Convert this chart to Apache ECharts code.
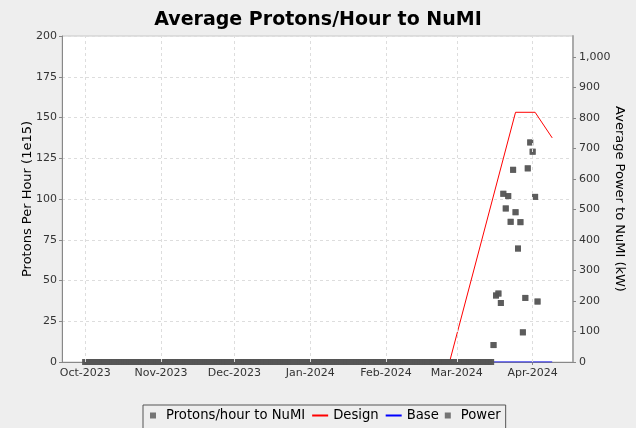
<!DOCTYPE html>
<html>
<head>
<meta charset="utf-8">
<script src="https://cdn.jsdelivr.net/npm/echarts@6/dist/echarts.min.js"></script>
<style>
html,body{margin:0;padding:0;background:#eeeeee;}
#c{width:636px;height:428px;}
</style>
</head>
<body>
<div id="c"></div>
<script>
// ---- data ----
const idleStart = '2023-10-01';   // daily zero readings from this day
const idleEnd = '2024-03-15';     // ...through this day
const runDates = ['2024-03-16','2024-03-17','2024-03-18','2024-03-19','2024-03-20','2024-03-21','2024-03-22','2024-03-23','2024-03-24','2024-03-25','2024-03-26','2024-03-27','2024-03-28','2024-03-29','2024-03-30','2024-03-31','2024-04-01','2024-04-02','2024-04-03'];
const protonsPerHour = [10.4,40.8,42.0,36.2,103.2,94.2,101.8,86.0,117.9,91.9,69.6,85.8,18.2,39.3,118.8,134.7,129.0,101.3,37.1];
const powerKW = [55.5,217.9,224.3,193.3,551.1,503.0,543.6,459.2,629.6,490.7,371.7,458.2,97.2,209.9,634.4,719.3,688.9,540.9,198.1];
const designDates = ['2024-02-27','2024-03-25','2024-04-02','2024-04-09'];
const designValues = [0,153.2,153.2,137.5];
const baseDates = ['2024-02-27','2024-04-09'];
const baseValues = [0,0];
const monthTickDates = ['2023-10-01','2023-11-01','2023-12-01','2024-01-01','2024-02-01','2024-03-01','2024-04-01'];
const rightTicks = [0,100,200,300,400,500,600,700,800,900,1000];
const monthNames = ['Jan','Feb','Mar','Apr','May','Jun','Jul','Aug','Sep','Oct','Nov','Dec'];

// ---- build ----
const DAY = 86400000;
function ts(s){const p=s.split('-');return Date.UTC(+p[0],+p[1]-1,+p[2]);}
const idleDays = [];
for (let t = ts(idleStart); t <= ts(idleEnd); t += DAY) idleDays.push(t);
const protonsData = idleDays.map(t=>[t,0]).concat(runDates.map((d,i)=>[ts(d),protonsPerHour[i]]));
const powerData = idleDays.map(t=>[t,0]).concat(runDates.map((d,i)=>[ts(d),powerKW[i]]));
const monthTicks = monthTickDates.map(ts);

const FONT = 'DejaVu Sans';
const SQ = 'path://M0,0L10,0L10,10L0,10Z';
const chart = echarts.init(document.getElementById('c'), null, {renderer:'canvas'});
chart.setOption({
  backgroundColor:'#eeeeee',
  animation:false,
  textStyle:{fontFamily:FONT},
  title:{text:'Average Protons/Hour to NuMI',left:'center',top:6,
    textStyle:{fontFamily:FONT,fontWeight:'bold',fontSize:19,color:'#000'}},
  grid:{left:62,right:63,top:36,bottom:66,containLabel:false,outerBoundsMode:'none',
    show:true,backgroundColor:'#ffffff',borderColor:'#c8c8c8',borderWidth:1},
  legend:{top:405,left:143,itemGap:6,itemWidth:16,itemHeight:6,symbolKeepAspect:true,
    padding:[4,5,12,7],borderColor:'#555',borderWidth:1,borderRadius:0,backgroundColor:'#eeeeee',
    textStyle:{fontFamily:FONT,fontSize:13.2,color:'#000'},
    data:[{name:'Protons/hour to NuMI',icon:SQ},
          {name:'Design',itemStyle:{color:'rgba(0,0,0,0)',borderWidth:0}},
          {name:'Base',itemStyle:{color:'rgba(0,0,0,0)',borderWidth:0}},
          {name:'Power',icon:SQ}]},
  xAxis:{type:'value',min:Date.UTC(2023,8,21,12),max:Date.UTC(2024,3,17,12),
    axisLine:{onZero:false,lineStyle:{color:'#888'}},
    axisTick:{customValues:monthTicks,length:3,lineStyle:{color:'#888'}},
    axisLabel:{customValues:monthTicks,color:'#333',fontSize:11,fontFamily:FONT,margin:6,
      formatter:v=>{const d=new Date(v);return monthNames[d.getUTCMonth()]+'-'+d.getUTCFullYear();}},
    splitLine:{show:false}},
  yAxis:[
    {type:'value',min:0,max:200,interval:25,position:'left',
     name:'Protons Per Hour (1e15)',nameLocation:'middle',nameGap:28,nameMoveOverlap:false,
     nameTextStyle:{fontFamily:FONT,fontSize:13,color:'#000'},
     axisLine:{show:true,lineStyle:{color:'#888'}},axisTick:{show:true,length:3,lineStyle:{color:'#888'}},
     axisLabel:{color:'#333',fontSize:11,fontFamily:FONT,margin:5},
     splitLine:{show:true,lineStyle:{color:'#dddddd',type:[3,3]}}},
    {type:'value',min:0,max:1068,position:'right',
     name:'Average Power to NuMI (kW)',nameLocation:'middle',nameGap:40,nameRotate:-90,nameMoveOverlap:false,
     nameTextStyle:{fontFamily:FONT,fontSize:13,color:'#000'},
     axisLine:{show:true,lineStyle:{color:'#aaa',width:2}},
     axisTick:{show:true,customValues:rightTicks,length:3,lineStyle:{color:'#888'}},
     axisLabel:{customValues:rightTicks,color:'#333',fontSize:11,fontFamily:FONT,margin:6,
       formatter:v=>v.toLocaleString('en-US')},
     splitLine:{show:false}}
  ],
  series:[
    {name:'Protons/hour to NuMI',type:'scatter',yAxisIndex:0,symbol:'rect',symbolSize:6,
     itemStyle:{color:'#555555'},data:protonsData,z:3},
    {name:'Design',type:'line',yAxisIndex:0,symbol:'none',
     lineStyle:{color:'#ff0000',width:1},itemStyle:{color:'#ff0000'},
     data:designDates.map((d,i)=>[ts(d),designValues[i]]),z:2},
    {name:'Base',type:'line',yAxisIndex:0,symbol:'none',
     lineStyle:{color:'#0000ff',width:1},itemStyle:{color:'#0000ff'},
     data:baseDates.map((d,i)=>[ts(d),baseValues[i]]),z:2},
    {name:'Power',type:'scatter',yAxisIndex:1,symbol:'rect',symbolSize:6,
     itemStyle:{color:'#555555'},data:powerData,z:4},
    {type:'line',data:[],z:1,markLine:{silent:true,symbol:'none',label:{show:false},
     lineStyle:{color:'#dddddd',type:[3,3],width:1},data:monthTicks.map(t=>({xAxis:t}))}}
  ]
});
</script>
</body>
</html>
